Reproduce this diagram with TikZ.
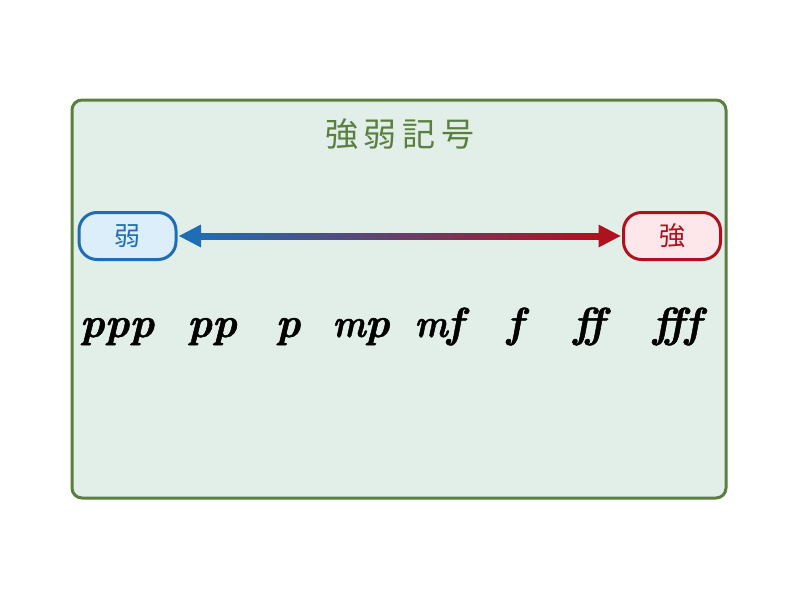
\documentclass[tikz,border=0pt]{standalone}
\usepackage{fontspec}
\usepackage{graphicx}
\newfontfamily\cjk{Noto Sans CJK JP}
\newfontfamily\dynfont{lmroman10-bolditalic}[Extension=.otf, FakeBold=1.2]
\usetikzlibrary{calc}
\definecolor{frameG}{HTML}{5A7F3E}
\definecolor{fillG}{HTML}{E1EFE8}
\definecolor{blueB}{HTML}{1F6DB4}
\definecolor{blueF}{HTML}{DCEEFA}
\definecolor{redB}{HTML}{B0111E}
\definecolor{redF}{HTML}{FDE7EA}
\newcommand{\dynm}{\scalebox{0.84}[0.95]{m}\kern-1pt}
\tikzset{
  endbox/.style={rounded corners=18pt, line width=3pt, minimum width=97pt, minimum height=47pt, inner sep=0pt, font=\cjk\fontsize{26}{26}\selectfont},
  dyn/.style={font=\dynfont\fontsize{42}{42}\selectfont, inner sep=0pt, anchor=base}
}
\begin{document}
\begin{tikzpicture}[x=1pt,y=-1pt]
\useasboundingbox (0,0) rectangle (800,600);
\fill[white] (0,0) rectangle (800,600);
\draw[frameG, fill=fillG, line width=3pt, rounded corners=10pt] (72,100) rectangle (726,498);
\node[text=frameG, font=\cjk\fontsize{33}{33}\selectfont] (title) at (400,134) {強\hspace{6pt}弱\hspace{6pt}記\hspace{6pt}号};
\node[endbox, draw=blueB, fill=blueF, text=blueB] (weak) at (127.5,236) {弱};
\node[endbox, draw=redB, fill=redF, text=redB] (strong) at (672,236) {強};
\shade[left color=blueB, right color=redB] ($(weak.east)+(20,-3)$) rectangle ($(strong.west)+(-20,3)$);
\fill[blueB] ($(weak.east)+(1.5,0)$) -- ++(22,-11.5) -- ++(0,23) -- cycle;
\fill[redB] ($(strong.west)+(-1.5,0)$) -- ++(-22,-11.5) -- ++(0,23) -- cycle;
\node[dyn] (ppp) at (117,337) {ppp};
\node[dyn] (pp) at (212,337) {pp};
\node[dyn] (p) at (288,337) {p};
\node[dyn] (mp) at (361,337) {\dynm p};
\node[dyn] (mf) at (439,337) {\dynm f};
\node[dyn] (f) at (515,337) {f};
\node[dyn] (ff) at (589,337) {ff};
\node[dyn] (fff) at (677,337) {fff};
\end{tikzpicture}
\end{document}
